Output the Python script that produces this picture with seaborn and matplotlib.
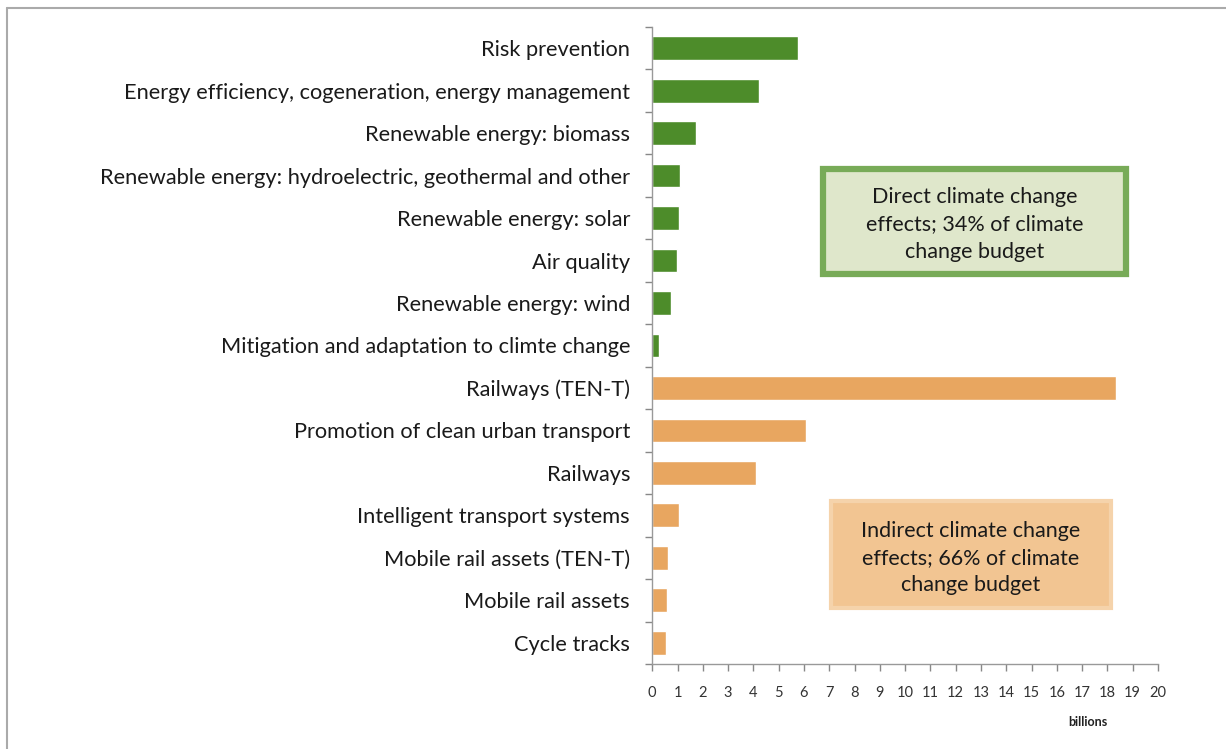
import pandas as pd
import matplotlib.pyplot as plt
from matplotlib.patches import Rectangle
from matplotlib.lines import Line2D
import seaborn as sns

# Data
categories = [
    'Risk prevention',
    'Energy efficiency, cogeneration, energy management',
    'Renewable energy: biomass',
    'Renewable energy: hydroelectric, geothermal and other',
    'Renewable energy: solar',
    'Air quality',
    'Renewable energy: wind',
    'Mitigation and adaptation to climte change',
    'Railways (TEN-T)',
    'Promotion of clean urban transport',
    'Railways',
    'Intelligent transport systems',
    'Mobile rail assets (TEN-T)',
    'Mobile rail assets',
    'Cycle tracks',
]
values = [5.75, 4.21, 1.75, 1.09, 1.04, 0.98, 0.75, 0.26,
          18.35, 6.08, 4.09, 1.05, 0.63, 0.59, 0.55]
groups = ['direct'] * 8 + ['indirect'] * 7
x_ticks = list(range(0, 21))

df = pd.DataFrame({'category': categories, 'value': values, 'group': groups})

sns.set_theme(style='white')
plt.rcParams['font.family'] = ['Lato', 'DejaVu Sans']

green = '#4d8c2a'
orange = '#e8a660'

fig = plt.figure(figsize=(12.26, 7.49), dpi=100)
ax = fig.add_axes([0.532, 0.1135, 0.4125, 0.8505])

sns.barplot(data=df, y='category', x='value', hue='group',
            palette={'direct': green, 'indirect': orange},
            dodge=False, width=0.56, legend=False, saturation=1, ax=ax)

ax.set_xlim(0, 20)
ax.set_ylim(14.5, -0.5)
ax.set_xticks(x_ticks)
ax.set_xticklabels([str(t) for t in x_ticks], fontsize=10.5, color='#333333')
ax.set_yticks(range(len(categories)))
ax.set_yticklabels(categories, fontsize=15.7, color='#1a1a1a')
ax.set_yticks([i + 0.5 for i in range(-1, len(categories))], minor=True)
ax.tick_params(axis='y', which='major', length=0, pad=16)
ax.tick_params(axis='y', which='minor', left=True, length=5, width=1, color='#888888')
ax.tick_params(axis='x', bottom=True, length=5, width=1, color='#888888', pad=11)
ax.set_xlabel('')
ax.set_ylabel('')

for s in ['top', 'right']:
    ax.spines[s].set_visible(False)
for s in ['left', 'bottom']:
    ax.spines[s].set_color('#999999')
    ax.spines[s].set_linewidth(1)

# annotation boxes
ax.add_patch(Rectangle((6.75, 2.85), 12.0, 2.47, facecolor='#dfe7cb',
                       edgecolor='#78ab58', linewidth=4.5, clip_on=False))
ax.text(12.75, 4.15, 'Direct climate change\neffects; 34% of climate\nchange budget',
        ha='center', va='center', fontsize=15.5, color='#1a1a1a', linespacing=1.45)

ax.add_patch(Rectangle((7.05, 10.67), 11.1, 2.5, facecolor='#f2c592',
                       edgecolor='#f5d3ab', linewidth=3, clip_on=False))
ax.text(12.6, 12.0, 'Indirect climate change\neffects; 66% of climate\nchange budget',
        ha='center', va='center', fontsize=15.5, color='#1a1a1a', linespacing=1.45)

fig.text(1088 / 1226, 1 - 722 / 749, 'billions', ha='center', va='center',
         fontsize=9, fontweight='bold', color='#222222')

# outer frame
fig.add_artist(Line2D([7 / 1226, 1], [1 - 8 / 749, 1 - 8 / 749], color='#aaaaaa', lw=1.5))
fig.add_artist(Line2D([7 / 1226, 7 / 1226], [0, 1 - 8 / 749], color='#aaaaaa', lw=1.5))

fig.savefig('out.png', dpi=100)
